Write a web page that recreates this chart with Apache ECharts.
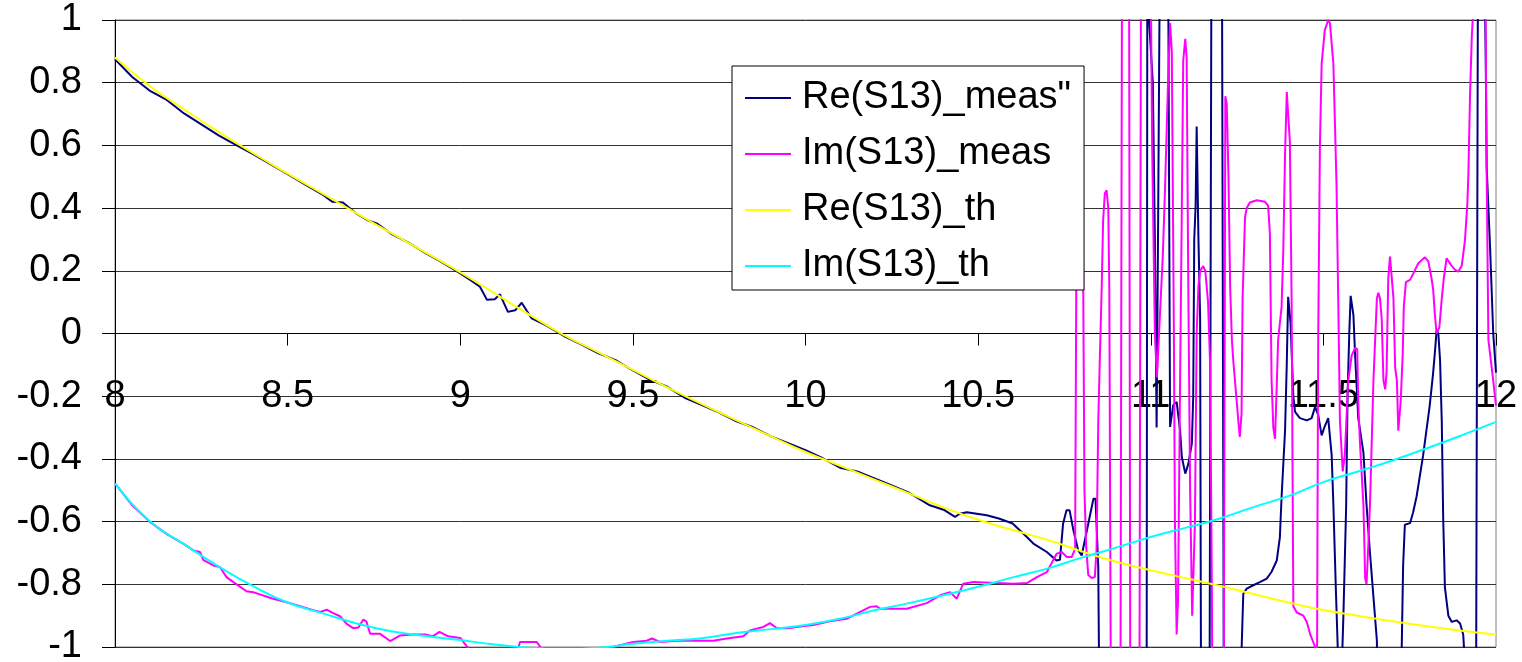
<!DOCTYPE html>
<html>
<head>
<meta charset="utf-8">
<title>S13</title>
<script src="https://cdn.jsdelivr.net/npm/echarts/dist/echarts.min.js"></script>
<style>
    html, body { margin: 0; padding: 0; background: #fff; }
    #chart { width: 1522px; height: 662px; }
</style>
</head>
<body>
<div id="chart"></div>
<script>
// theory curves, sampled every 0.1 GHz
var thFreq = [8.0, 8.1, 8.2, 8.3, 8.4, 8.5, 8.6, 8.7, 8.8, 8.9,
    9.0, 9.1, 9.2, 9.3, 9.4, 9.5, 9.6, 9.7, 9.8, 9.9,
    10.0, 10.1, 10.2, 10.3, 10.4, 10.5, 10.6, 10.7, 10.8, 10.9,
    11.0, 11.1, 11.2, 11.3, 11.4, 11.5, 11.6, 11.7, 11.8, 11.9, 12.0];
var reThVal = [0.880, 0.790, 0.715, 0.643, 0.575, 0.510, 0.447, 0.383, 0.320, 0.258,
    0.195, 0.128, 0.060, -0.005, -0.060, -0.116, -0.172, -0.225, -0.277, -0.328,
    -0.378, -0.422, -0.466, -0.510, -0.555, -0.594, -0.627, -0.658, -0.695, -0.728,
    -0.755, -0.780, -0.805, -0.832, -0.858, -0.882, -0.900, -0.918, -0.934, -0.948, -0.960];
var imThVal = [-0.478, -0.598, -0.672, -0.743, -0.806, -0.858, -0.892, -0.925, -0.950, -0.965,
    -0.978, -0.992, -1.002, -1.005, -1.002, -0.990, -0.980, -0.972, -0.955, -0.943,
    -0.930, -0.910, -0.883, -0.860, -0.835, -0.808, -0.778, -0.750, -0.715, -0.683,
    -0.649, -0.620, -0.590, -0.553, -0.518, -0.474, -0.440, -0.405, -0.366, -0.325, -0.282];

// measured Re(S13)
var reMeasFreq = [8.00, 8.05, 8.10, 8.15, 8.20, 8.25, 8.30, 8.35, 8.40, 8.45,
    8.50, 8.55, 8.60, 8.63, 8.66, 8.70, 8.73, 8.76, 8.80, 8.85,
    8.90, 8.95, 9.00, 9.03, 9.057, 9.077, 9.100, 9.115, 9.138, 9.159,
    9.178, 9.207, 9.25, 9.30, 9.35, 9.40, 9.45, 9.50, 9.55, 9.60,
    9.65, 9.70, 9.75, 9.80, 9.85, 9.90, 9.95, 10.00, 10.05, 10.10,
    10.15, 10.20, 10.25, 10.30, 10.36, 10.40, 10.433, 10.447, 10.467, 10.525,
    10.56, 10.60, 10.641, 10.66, 10.699, 10.727, 10.737, 10.746, 10.756, 10.765,
    10.776, 10.790, 10.800, 10.834, 10.840, 10.848, 10.852,
    10.988, 10.990, 10.995, 11.006, 11.012, 11.017, 11.021, 11.027, 11.050, 11.056,
    11.065, 11.075, 11.085, 11.090, 11.100, 11.109, 11.119, 11.123, 11.126, 11.130,
    11.133, 11.137, 11.138, 11.143, 11.146, 11.170, 11.176, 11.206, 11.212, 11.261,
    11.262, 11.268, 11.278, 11.297, 11.316, 11.336, 11.350, 11.365, 11.374, 11.379,
    11.389, 11.394, 11.398, 11.405, 11.413, 11.418, 11.432, 11.452, 11.466, 11.476,
    11.485, 11.495, 11.504, 11.514, 11.524, 11.529, 11.536, 11.543, 11.551, 11.558,
    11.566, 11.570, 11.575, 11.579, 11.587, 11.592, 11.601, 11.616, 11.625, 11.635,
    11.645, 11.655, 11.658, 11.723, 11.727, 11.731, 11.736, 11.751, 11.760, 11.770,
    11.789, 11.808, 11.818, 11.823, 11.828, 11.833, 11.838, 11.843, 11.847, 11.852,
    11.862, 11.872, 11.886, 11.896, 11.905, 11.910, 11.913, 11.942, 11.948, 11.965,
    11.970, 11.973, 11.983, 11.992, 12.000];
var reMeasVal = [0.875, 0.818, 0.775, 0.745, 0.702, 0.667, 0.632, 0.602, 0.572, 0.540,
    0.508, 0.476, 0.444, 0.420, 0.418, 0.382, 0.362, 0.350, 0.318, 0.290,
    0.256, 0.225, 0.192, 0.170, 0.149, 0.108, 0.109, 0.125, 0.069, 0.074,
    0.098, 0.048, 0.025, -0.008, -0.035, -0.063, -0.085, -0.118, -0.148, -0.170,
    -0.205, -0.228, -0.252, -0.280, -0.300, -0.328, -0.350, -0.372, -0.398, -0.428,
    -0.440, -0.462, -0.485, -0.508, -0.548, -0.562, -0.585, -0.575, -0.570, -0.580,
    -0.590, -0.606, -0.649, -0.670, -0.697, -0.724, -0.722, -0.607, -0.564, -0.564,
    -0.628, -0.692, -0.708, -0.527, -0.527, -0.745, -1.3,
    -1.3, 1.1, 1.0, 0.8, 0.3, -0.30, 0.3, 1.3, 1.3, -0.298,
    -0.229, -0.218, -0.31, -0.394, -0.447, -0.415, -0.351, -0.202, 0.30, 0.41,
    0.66, 0.66, 0.31, 0.05, -1.3, -1.3, 1.3, 1.3, -1.3, -1.3,
    -1.05, -0.83, -0.814, -0.803, -0.793, -0.782, -0.76, -0.724, -0.65, -0.52,
    -0.31, -0.095, 0.117, 0.033, -0.20, -0.25, -0.27, -0.277, -0.27, -0.234,
    -0.26, -0.325, -0.296, -0.27, -0.388, -0.546, -0.81, -1.05, -1.15, -0.9,
    -0.55, -0.2, 0.0, 0.12, 0.059, -0.07, -0.27, -0.38, -0.546, -0.70,
    -0.84, -0.98, -1.3, -1.3, -1.0, -0.74, -0.61, -0.605, -0.57, -0.52,
    -0.388, -0.23, -0.125, -0.06, 0.01, 0.0, -0.086, -0.283, -0.586, -0.81,
    -0.90, -0.92, -0.915, -0.925, -0.96, -1.05, -1.3, -1.3, 1.3, 1.3,
    0.9, 0.53, 0.27, 0.0, -0.125];

// measured Im(S13)
var imMeasFreq = [8.00, 8.05, 8.10, 8.15, 8.20, 8.227, 8.246, 8.256, 8.285, 8.304,
    8.323, 8.343, 8.381, 8.40, 8.458, 8.50, 8.574, 8.595, 8.613, 8.632,
    8.652, 8.671, 8.690, 8.705, 8.719, 8.728, 8.739, 8.768, 8.797, 8.826,
    8.86, 8.90, 8.92, 8.94, 8.965, 9.00, 9.024, 9.168, 9.173, 9.221,
    9.236, 9.424, 9.46, 9.501, 9.54, 9.555, 9.579, 9.636, 9.733, 9.772,
    9.82, 9.839, 9.878, 9.897, 9.917, 9.95, 9.984, 10.023, 10.07, 10.119,
    10.187, 10.206, 10.216, 10.293, 10.351, 10.39, 10.419, 10.438, 10.457, 10.486,
    10.602, 10.641, 10.67, 10.699, 10.728, 10.742, 10.757, 10.771, 10.781, 10.786,
    10.802, 10.808, 10.813, 10.819, 10.829, 10.838, 10.843, 10.848, 10.853, 10.858,
    10.862, 10.867, 10.872, 10.877, 10.880, 10.885, 10.912, 10.917, 10.937, 10.941,
    10.967, 10.972, 10.998, 11.001, 11.004, 11.012, 11.018, 11.024, 11.035, 11.041,
    11.050, 11.056, 11.061, 11.067, 11.070, 11.075, 11.079, 11.085, 11.090, 11.094,
    11.100, 11.104, 11.109, 11.114, 11.120, 11.123, 11.128, 11.133, 11.138, 11.143,
    11.152, 11.158, 11.166, 11.172, 11.177, 11.179, 11.211, 11.216, 11.220, 11.225,
    11.230, 11.235, 11.239, 11.249, 11.254, 11.258, 11.263, 11.266, 11.273, 11.278,
    11.287, 11.307, 11.331, 11.340, 11.345, 11.350, 11.355, 11.360, 11.364, 11.369,
    11.379, 11.384, 11.389, 11.394, 11.398, 11.403, 11.408, 11.413, 11.423, 11.442,
    11.452, 11.462, 11.476, 11.481, 11.483, 11.485, 11.490, 11.495, 11.504, 11.514,
    11.519, 11.529, 11.538, 11.543, 11.548, 11.556, 11.562, 11.572, 11.582, 11.592,
    11.598, 11.601, 11.606, 11.616, 11.621, 11.625, 11.630, 11.635, 11.645, 11.655,
    11.659, 11.664, 11.669, 11.674, 11.679, 11.683, 11.688, 11.693, 11.698, 11.703,
    11.708, 11.713, 11.717, 11.722, 11.724, 11.730, 11.733, 11.739, 11.751, 11.760,
    11.775, 11.794, 11.804, 11.813, 11.818, 11.823, 11.828, 11.836, 11.843, 11.849,
    11.857, 11.872, 11.881, 11.891, 11.901, 11.910, 11.917, 11.920, 11.925, 11.930,
    11.935, 11.939, 11.965, 11.970, 11.973, 11.978, 11.992, 12.000];
var imMeasVal = [-0.478, -0.548, -0.600, -0.640, -0.672, -0.692, -0.697, -0.723, -0.740, -0.745,
    -0.777, -0.793, -0.822, -0.825, -0.846, -0.858, -0.883, -0.888, -0.881, -0.892,
    -0.902, -0.926, -0.940, -0.938, -0.913, -0.918, -0.958, -0.958, -0.981, -0.963,
    -0.960, -0.960, -0.966, -0.952, -0.966, -0.971, -1.005, -1.005, -0.984, -0.984,
    -1.005, -1.005, -0.995, -0.984, -0.980, -0.973, -0.984, -0.979, -0.980, -0.973,
    -0.966, -0.947, -0.936, -0.924, -0.940, -0.940, -0.935, -0.930, -0.918, -0.910,
    -0.872, -0.870, -0.878, -0.878, -0.860, -0.835, -0.825, -0.846, -0.798, -0.793,
    -0.798, -0.796, -0.777, -0.761, -0.702, -0.697, -0.713, -0.713, -0.686, 0.6,
    0.6, -0.5, -0.68, -0.77, -0.78, -0.777, -0.69, -0.28, -0.06, 0.149,
    0.36, 0.447, 0.457, 0.40, 0.14, -1.3, -1.3, 1.3, 1.3, -1.3,
    -1.3, 1.3, 1.3, 1.0, 0.6, 0.0, -0.14, 0.0, 0.25, 0.45,
    0.8, 0.99, 0.9, 0.0, -0.6, -0.96, -0.85, -0.15, 0.4, 0.87,
    0.94, 0.88, 0.12, -0.5, -0.9, -0.9, -0.6, 0.0, 0.15, 0.2,
    0.215, 0.2, 0.1, -0.1, -0.81, -1.3, -1.3, 0.757, 0.734, 0.51,
    0.15, -0.02, -0.086, -0.217, -0.283, -0.33, -0.257, 0.112, 0.37, 0.40,
    0.418, 0.425, 0.42, 0.408, 0.32, -0.15, -0.30, -0.336, -0.2, -0.02,
    0.086, 0.27, 0.572, 0.77, 0.765, 0.61, 0.11, -0.87, -0.89, -0.90,
    -0.92, -0.96, -1.0, -1.3, -0.6, -0.02, 0.6, 0.86, 0.967, 1.0,
    0.99, 0.86, 0.48, 0.11, -0.28, -0.44, -0.39, -0.15, -0.07, -0.046,
    -0.05, -0.217, -0.35, -0.546, -0.78, -0.80, -0.678, -0.546, -0.15, 0.112,
    0.13, 0.112, 0.046, -0.15, -0.178, -0.125, 0.178, 0.245, 0.24, 0.112,
    -0.11, -0.15, -0.31, -0.31, -0.217, -0.06, 0.086, 0.164, 0.171, 0.19,
    0.224, 0.243, 0.23, 0.178, 0.14, 0.06, 0.0, 0.02, 0.112, 0.178,
    0.24, 0.215, 0.204, 0.197, 0.217, 0.296, 0.414, 0.507, 0.77, 0.95,
    1.05, 1.3, 1.3, 1.0, 0.507, -0.02, -0.15, -0.23];

var seriesNames = ['Re(S13)_meas"', 'Im(S13)_meas', 'Re(S13)_th', 'Im(S13)_th'];
var seriesColors = ['#000080', '#ff00ff', '#ffff00', '#00ffff'];

function pairs(xs, ys) {
    return xs.map(function (x, i) { return [x, ys[i]]; });
}

var font = 'Liberation Sans, Arial, sans-serif';
var myChart = echarts.init(document.getElementById('chart'));

function line(idx, data, smooth) {
    return {
        name: seriesNames[idx],
        type: 'line',
        data: data,
        symbol: 'none',
        smooth: smooth,
        color: seriesColors[idx],
        lineStyle: { color: seriesColors[idx], width: 2 }
    };
}

var option = {
    animation: false,
    backgroundColor: '#fff',
    grid: {
        left: 115, right: 26, top: 20, bottom: 15,
        containLabel: false, outerBoundsMode: 'none',
        show: true, borderColor: '#808080', borderWidth: 1
    },
    legend: {
        orient: 'vertical',
        left: 732, top: 66,
        padding: [13, 13, 5, 13],
        itemWidth: 46, itemHeight: 38, itemGap: 18,
        icon: 'path://M0,0 L46,0 L46,2 L0,2 Z',
        backgroundColor: '#fff', borderColor: '#000', borderWidth: 1,
        textStyle: { fontSize: 38, fontFamily: font, color: '#000', padding: [0, 0, 0, 6] },
        data: seriesNames
    },
    // x axis sits on y = 0: moved up from the grid bottom by half the plot height
    xAxis: {
        type: 'value',
        position: 'bottom',
        offset: -313.5,
        min: 8, max: 12, interval: 0.5,
        axisLine: { onZero: false, lineStyle: { color: '#000', width: 1 } },
        axisTick: { length: 12, lineStyle: { color: '#000' } },
        axisLabel: { fontSize: 38, fontFamily: font, color: '#000', margin: 44 },
        splitLine: { show: false }
    },
    yAxis: {
        type: 'value',
        min: -1, max: 1, interval: 0.2,
        axisLine: { show: true, onZero: false, lineStyle: { color: '#000', width: 1 } },
        axisTick: { show: true, length: 13, lineStyle: { color: '#000' } },
        axisLabel: { fontSize: 38, fontFamily: font, color: '#000', margin: 33 },
        splitLine: { show: true, lineStyle: { color: '#333', width: 1 } }
    },
    series: [
        line(0, pairs(reMeasFreq, reMeasVal), false),
        line(1, pairs(imMeasFreq, imMeasVal), false),
        line(2, pairs(thFreq, reThVal), true),
        line(3, pairs(thFreq, imThVal), true)
    ]
};

option && myChart.setOption(option);
window.addEventListener('resize', myChart.resize);
</script>
</body>
</html>
